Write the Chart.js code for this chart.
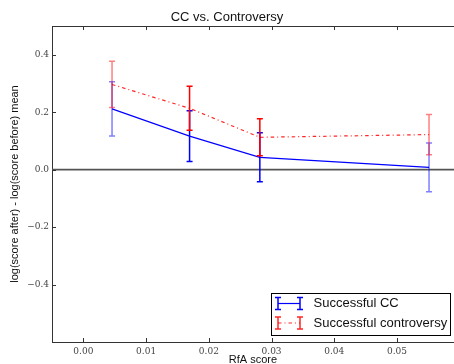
<!DOCTYPE html>
<html><head><meta charset="utf-8">
<script src="https://cdn.jsdelivr.net/npm/chart.js@4.4.0/dist/chart.umd.min.js"></script>
<style>html,body{margin:0;padding:0;background:#fff;overflow:hidden}#wrap{width:454px;height:364px}</style>
</head><body><div id="wrap"><canvas id="c" width="454" height="364"></canvas></div>
<script>
const rfaScore = [0.00457, 0.01693, 0.02813, 0.0551];
const ccMean = [0.2115, 0.1165, 0.043, 0.008];
const ccErr = [0.0945, 0.0885, 0.085, 0.085];
const contMean = [0.2965, 0.2135, 0.1125, 0.122];
const contErr = [0.0805, 0.0765, 0.0645, 0.070];
const xTicks = [0, 0.01, 0.02, 0.03, 0.04, 0.05];
const yTicks = [-0.4, -0.2, 0, 0.2, 0.4];
const seriesLabels = ['Successful CC', 'Successful controversy'];

const toPts = (xs, ys) => xs.map((v, i) => ({x: v, y: ys[i]}));

const axisColor = '#333';
const errPlugin = {
  id: 'errbars',
  beforeDatasetsDraw(chart) {
    const {ctx, chartArea: a, scales: {y}} = chart;
    const y0 = y.getPixelForValue(0);
    ctx.save();
    ctx.strokeStyle = '#555';
    ctx.lineWidth = 1.6;
    ctx.beginPath(); ctx.moveTo(a.left, y0); ctx.lineTo(a.right, y0); ctx.stroke();
    ctx.restore();
  },
  afterDatasetsDraw(chart) {
    const {ctx, scales: {x, y}} = chart;
    ctx.save();
    chart.data.datasets.forEach(ds => {
      ds.data.forEach((p, j) => {
        const px = x.getPixelForValue(p.x);
        const t = y.getPixelForValue(p.y + ds.errors[j]);
        const b = y.getPixelForValue(p.y - ds.errors[j]);
        ctx.strokeStyle = ds.barColors[j];
        ctx.lineWidth = 1.5;
        ctx.setLineDash([]);
        ctx.beginPath();
        ctx.moveTo(px, t); ctx.lineTo(px, b);
        ctx.moveTo(px - 3, t); ctx.lineTo(px + 3, t);
        ctx.moveTo(px - 3, b); ctx.lineTo(px + 3, b);
        ctx.stroke();
      });
    });
    ctx.restore();
  },
  afterDraw(chart) {
    const {ctx, chartArea: a, scales: {x, y}} = chart;
    ctx.save();
    ctx.strokeStyle = axisColor;
    ctx.lineWidth = 1;
    ctx.beginPath();
    ctx.moveTo(a.left, a.top + 0.5); ctx.lineTo(a.right, a.top + 0.5);
    x.ticks.forEach(t => {
      const px = Math.round(x.getPixelForValue(t.value)) + 0.5;
      ctx.moveTo(px, a.bottom); ctx.lineTo(px, a.bottom - 4);
      ctx.moveTo(px, a.top); ctx.lineTo(px, a.top + 4);
    });
    y.ticks.forEach(t => {
      const py = Math.round(y.getPixelForValue(t.value)) + 0.5;
      ctx.moveTo(a.left, py); ctx.lineTo(a.left + 4, py);
    });
    ctx.stroke();
    // legend
    const lx = 271.5, ly = 293.5, lw = 179, lh = 42;
    ctx.fillStyle = '#fff';
    ctx.fillRect(lx, ly, lw, lh);
    ctx.strokeStyle = '#000';
    ctx.strokeRect(lx, ly, lw, lh);
    ctx.font = '13px "Liberation Sans", Arial, sans-serif';
    ctx.textBaseline = 'middle';
    chart.data.datasets.forEach((ds, i) => {
      const cy = 303.5 + i * 19.5;
      const x1 = 278, x2 = 300;
      ctx.strokeStyle = ds.borderColor;
      ctx.lineWidth = 1.2;
      ctx.setLineDash(ds.borderDash || []);
      ctx.beginPath(); ctx.moveTo(x1, cy); ctx.lineTo(x2, cy); ctx.stroke();
      ctx.setLineDash([]);
      ctx.lineWidth = 1.5;
      ctx.beginPath();
      [x1, x2].forEach(xx => {
        ctx.moveTo(xx, cy - 6); ctx.lineTo(xx, cy + 6);
        ctx.moveTo(xx - 3, cy - 6); ctx.lineTo(xx + 3, cy - 6);
        ctx.moveTo(xx - 3, cy + 6); ctx.lineTo(xx + 3, cy + 6);
      });
      ctx.stroke();
      ctx.fillStyle = '#111';
      ctx.fillText(ds.label, 313.5, cy);
    });
    ctx.restore();
  }
};

const fmtY = v => (Math.abs(v) < 1e-9 ? '0.0' : v.toFixed(1)).replace('-', '\u2212');
const fmtX = v => (Math.abs(v) < 1e-9 ? 0 : v).toFixed(2);

new Chart(document.getElementById('c'), {
  type: 'line',
  data: {
    datasets: [
      {
        label: seriesLabels[0],
        data: toPts(rfaScore, ccMean),
        errors: ccErr,
        borderColor: '#0000ff',
        barColors: ['rgba(0,0,255,0.5)', '#0000ff', '#0000ff', 'rgba(0,0,255,0.5)'],
        borderWidth: 1.2,
        pointRadius: 0,
        tension: 0,
        order: 2
      },
      {
        label: seriesLabels[1],
        data: toPts(rfaScore, contMean),
        errors: contErr,
        borderColor: 'rgba(255,0,0,0.85)',
        barColors: ['rgba(255,0,0,0.5)', '#ff0000', '#ff0000', 'rgba(255,0,0,0.5)'],
        borderWidth: 1.2,
        borderDash: [3.5, 3, 1, 3],
        pointRadius: 0,
        tension: 0,
        order: 1
      }
    ]
  },
  options: {
    responsive: false,
    animation: false,
    layout: {padding: {left: 0, right: 0, top: 0, bottom: 0}},
    plugins: {
      legend: {display: false},
      tooltip: {enabled: false},
      title: {
        display: true,
        text: 'CC vs. Controversy',
        color: '#111',
        font: {family: '"Liberation Sans", Arial, sans-serif', size: 13, weight: 'normal'},
        padding: {top: 9.4, bottom: 1}
      }
    },
    scales: {
      x: {
        type: 'linear',
        min: -0.005,
        max: 0.05908,
        afterBuildTicks: s => { s.ticks = xTicks.map(v => ({value: v})); },
        afterFit: s => { s.height = 22; },
        grid: {display: false, drawTicks: false},
        border: {display: true, color: axisColor, width: 1},
        ticks: {
          padding: 4,
          color: '#444',
          maxRotation: 0,
          autoSkip: false,
          font: {family: '"DejaVu Serif", "Liberation Serif", serif', size: 9},
          callback: v => fmtX(v)
        },
        title: {
          display: true,
          text: 'RfA score',
          color: '#111',
          font: {family: '"Liberation Sans", Arial, sans-serif', size: 11},
          padding: {top: 0, bottom: -3}
        }
      },
      y: {
        type: 'linear',
        min: -0.6,
        max: 0.5,
        afterBuildTicks: s => { s.ticks = yTicks.map(v => ({value: v})); },
        afterFit: s => { s.width = 52; },
        grid: {display: false, drawTicks: false},
        border: {display: true, color: axisColor, width: 1},
        ticks: {
          padding: 3,
          color: '#444',
          autoSkip: false,
          font: {family: '"DejaVu Serif", "Liberation Serif", serif', size: 9},
          callback: v => fmtY(v)
        },
        title: {
          display: true,
          text: 'log(score after) - log(score before) mean',
          color: '#111',
          font: {family: '"Liberation Sans", Arial, sans-serif', size: 11},
          padding: {top: 8.4, bottom: 0}
        }
      }
    }
  },
  plugins: [errPlugin]
});
</script>
</body></html>
